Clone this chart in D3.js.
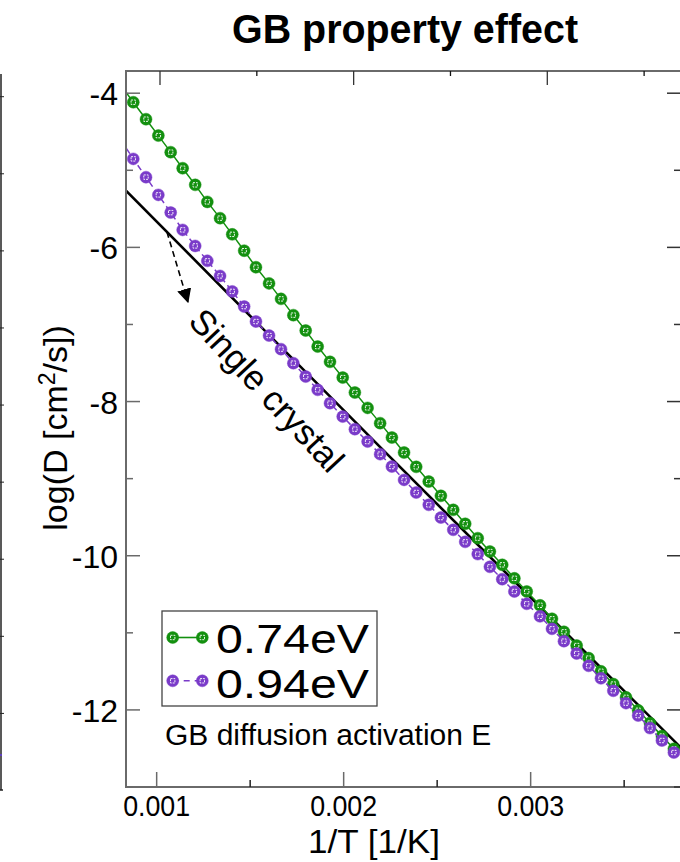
<!DOCTYPE html>
<html><head><meta charset="utf-8">
<script src="https://cdn.jsdelivr.net/npm/d3@7/dist/d3.min.js"></script>
<style>body{margin:0;background:#fff}svg{display:block;font-family:"Liberation Sans",Arial,sans-serif}</style>
</head><body><svg id="c" width="680" height="862"></svg>
<script>
// ---- data (1/T in 1/K, log10 D in cm^2/s) ----
const invT = [0.000809,0.000875,0.000943,0.001009,0.001075,0.001139,0.001206,0.001271,0.001339,0.001404,0.001468,0.001531,0.001601,0.001665,0.001731,0.001797,0.001861,0.001927,0.001995,0.002060,0.002128,0.002195,0.002258,0.002323,0.002388,0.002455,0.002520,0.002586,0.002650,0.002717,0.002782,0.002848,0.002913,0.002979,0.003050,0.003114,0.003178,0.003246,0.003310,0.003376,0.003442,0.003510,0.003575,0.003638,0.003702,0.003766];
const gb074 = [-3.896,-4.117,-4.337,-4.550,-4.765,-4.973,-5.189,-5.410,-5.621,-5.831,-6.043,-6.257,-6.467,-6.668,-6.879,-7.079,-7.287,-7.485,-7.689,-7.883,-8.082,-8.280,-8.467,-8.661,-8.847,-9.038,-9.223,-9.405,-9.586,-9.772,-9.946,-10.118,-10.293,-10.464,-10.643,-10.818,-10.987,-11.165,-11.328,-11.499,-11.665,-11.837,-12.005,-12.171,-12.340,-12.505];
const gb094 = [-4.612,-4.852,-5.089,-5.319,-5.549,-5.773,-5.981,-6.175,-6.370,-6.571,-6.768,-6.962,-7.144,-7.320,-7.502,-7.676,-7.848,-8.021,-8.195,-8.358,-8.519,-8.682,-8.843,-9.016,-9.180,-9.340,-9.505,-9.664,-9.820,-9.979,-10.144,-10.304,-10.464,-10.624,-10.786,-10.948,-11.108,-11.269,-11.428,-11.590,-11.752,-11.912,-12.073,-12.236,-12.397,-12.553];
const singleInvT = [0.000836,0.002194,0.003820];
const singleLogD = [-5.263,-8.588,-12.530];
const xTickVals = [0.001,0.0015,0.002,0.0025,0.003,0.0035];
const xTickLabels = ["0.001","","0.002","","0.003",""];
const yTickVals = [-13,-12,-11,-10,-9,-8,-7,-6,-5,-4];
const yTickLabels = ["","-12","","-10","","-8","","-6","","-4"];
const seriesNames = ["0.74eV","0.94eV"];
const seriesColors = ["#13900f","#7a3bc9"];

const svg = d3.select("#c");
const L=126,R=681,T=71,B=787;
const x = d3.scaleLinear().domain([0.000836,0.003804]).range([L,R]);
const y = d3.scaleLinear().domain([-13,-3.712]).range([B,T]);
const xTop = d3.scaleLinear().domain([0.001,0.003]).range([160,547.3]);
const frameCol="#6a6a6a";

// left neighbouring panel remnant
const yLeft = d3.scaleLinear().domain([-13,-3.712]).range([B+3.5,T+3.5]);
svg.append("line").attr("x1",1).attr("x2",1).attr("y1",74).attr("y2",790).attr("stroke","#222").attr("stroke-width",1.5);
svg.append("line").attr("x1",0).attr("x2",3).attr("y1",790).attr("y2",790).attr("stroke","#222").attr("stroke-width",1.5);
svg.selectAll(".lt").data(d3.range(-12,-3,1)).join("line")
  .attr("x1",0).attr("x2",4).attr("y1",d=>yLeft(d)).attr("y2",d=>yLeft(d)).attr("stroke","#222").attr("stroke-width",1);
svg.append("line").attr("x1",0).attr("x2",2).attr("y1",755).attr("y2",755).attr("stroke","#6040c0").attr("stroke-width",2);

// title
svg.append("text").attr("x",405).attr("y",43).attr("text-anchor","middle")
  .attr("font-size",40).attr("font-weight","bold").attr("textLength",346).attr("lengthAdjust","spacingAndGlyphs")
  .text("GB property effect");

const clip = svg.append("defs").append("clipPath").attr("id","pc");
clip.append("rect").attr("x",L).attr("y",T).attr("width",R-L).attr("height",B-T);
const g = svg.append("g").attr("clip-path","url(#pc)");

// single crystal
g.append("path").datum(singleInvT.map((v,i)=>[v,singleLogD[i]]))
  .attr("d",d3.line().x(d=>x(d[0])).y(d=>y(d[1])))
  .attr("fill","none").attr("stroke","#000").attr("stroke-width",2.6);

function marker(sel,col){
  sel.append("circle").attr("r",6).attr("fill",col).attr("stroke",col).attr("stroke-opacity",0.45).attr("stroke-width",1);
  sel.append("rect").attr("x",-2.2).attr("y",-2.2).attr("width",4.4).attr("height",4.4)
    .attr("fill","none").attr("stroke","#fff").attr("stroke-width",1).attr("stroke-dasharray","2,1").attr("opacity",0.9);
}
[gb074,gb094].forEach((ser,k)=>{
  const pts = invT.map((v,i)=>[v,ser[i]]);
  g.append("path").datum(pts).attr("d",d3.line().x(d=>x(d[0])).y(d=>y(d[1])))
    .attr("fill","none").attr("stroke",seriesColors[k]).attr("stroke-width",1.5)
    .attr("stroke-dasharray",k===1?"6,4":null);
  const m = g.selectAll(".m"+k).data(pts.filter(d=>d[0]>=x.domain()[0])).join("g")
    .attr("transform",d=>`translate(${x(d[0])},${y(d[1])})`);
  marker(m,seriesColors[k]);
});

// frame
svg.append("rect").attr("x",L).attr("y",T).attr("width",R-L).attr("height",B-T)
  .attr("fill","none").attr("stroke",frameCol).attr("stroke-width",2);

// bottom axis ticks (inward)
svg.selectAll(".bt").data(xTickVals).join("line")
  .attr("x1",d=>x(d)).attr("x2",d=>x(d)).attr("y1",B).attr("y2",(d,i)=>B-(xTickLabels[i]?15:7))
  .attr("stroke",(d,i)=>xTickLabels[i]?frameCol:"#222").attr("stroke-width",1.5);
svg.selectAll(".bl").data(xTickVals.filter((d,i)=>xTickLabels[i])).join("text")
  .attr("x",d=>x(d)).attr("y",816).attr("text-anchor","middle").attr("font-size",30)
  .attr("textLength",67).attr("lengthAdjust","spacingAndGlyphs")
  .text(d=>xTickLabels[xTickVals.indexOf(d)]);
// top axis ticks
svg.selectAll(".tt").data([0.001,0.0015,0.002,0.0025,0.003,0.0035]).join("line")
  .attr("x1",d=>xTop(d)).attr("x2",d=>xTop(d)).attr("y1",T).attr("y2",(d,i)=>T+(i%2===0?14:5))
  .attr("stroke",(d,i)=>i%2===0?"#333":"#111").attr("stroke-width",1.3);
// left & right ticks
svg.selectAll(".ylt").data(yTickVals).join("line")
  .attr("x1",L).attr("x2",(d,i)=>L+(yTickLabels[i]?14:7)).attr("y1",d=>y(d)).attr("y2",d=>y(d))
  .attr("stroke",frameCol).attr("stroke-width",1.5);
svg.selectAll(".yrt").data(yTickVals).join("line")
  .attr("x1",R).attr("x2",(d,i)=>R-(yTickLabels[i]?14:7)).attr("y1",d=>y(d)).attr("y2",d=>y(d))
  .attr("stroke","#333").attr("stroke-width",1.5);
svg.selectAll(".yl").data(yTickVals.filter((d,i)=>yTickLabels[i])).join("text")
  .attr("x",118).attr("y",d=>y(d)+12).attr("text-anchor","end").attr("font-size",32)
  .text(d=>yTickLabels[yTickVals.indexOf(d)]);

// axis titles
svg.append("text").attr("x",374).attr("y",853).attr("text-anchor","middle").attr("font-size",33)
  .attr("textLength",132).attr("lengthAdjust","spacingAndGlyphs").text("1/T [1/K]");
const yl = svg.append("text").attr("transform","translate(67,428) rotate(-90)").attr("text-anchor","middle").attr("font-size",34);
yl.append("tspan").text("log(D [cm");
yl.append("tspan").attr("dy",-12).attr("font-size",23).text("2");
yl.append("tspan").attr("dy",12).text("/s])");

// annotation
svg.append("defs").append("marker").attr("id","ah").attr("viewBox","0 0 10 10").attr("refX",9).attr("refY",5)
  .attr("markerWidth",9).attr("markerHeight",9).attr("orient","auto")
  .append("path").attr("d","M0,0L10,5L0,10z").attr("fill","#000");
svg.append("line").attr("x1",x(0.001055)).attr("y1",y(-5.80)).attr("x2",x(0.001167)).attr("y2",y(-6.707))
  .attr("stroke","#000").attr("stroke-width",1.6).attr("stroke-dasharray","6,4").attr("marker-end","url(#ah)");
svg.append("text").attr("transform","translate(267,390) rotate(47)").attr("text-anchor","middle")
  .attr("dominant-baseline","central").attr("font-size",35).text("Single crystal");

// legend
svg.append("rect").attr("x",162).attr("y",611).attr("width",215).attr("height",95)
  .attr("fill","#fff").attr("stroke","#444").attr("stroke-width",1.3);
seriesNames.forEach((nm,k)=>{
  const cy = 637.5 + k*43.3;
  svg.append("line").attr("x1",172.7).attr("x2",202.3).attr("y1",cy).attr("y2",cy)
    .attr("stroke",seriesColors[k]).attr("stroke-width",1.6).attr("stroke-dasharray",k===1?"6,5":null);
  [172.7,202.3].forEach(cx=>marker(svg.append("g").attr("transform",`translate(${cx},${cy})`),seriesColors[k]));
  svg.append("text").attr("x",216).attr("y",653+k*45).attr("font-size",40)
    .attr("textLength",153).attr("lengthAdjust","spacingAndGlyphs").text(nm);
});
svg.append("text").attr("x",165).attr("y",745).attr("font-size",30).text("GB diffusion activation E");
</script></body></html>
